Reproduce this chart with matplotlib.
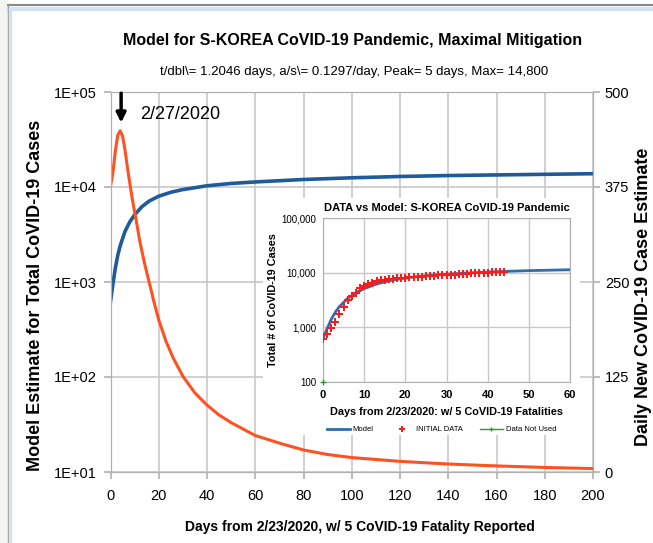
import matplotlib
matplotlib.use('Agg')
from matplotlib import pyplot as plt
from matplotlib.patches import Rectangle
from matplotlib.lines import Line2D

# main chart: model total cases (left, log) and daily new cases (right, linear)
model_days = [0, 1, 2, 3, 4, 6, 8, 10, 13, 16, 20, 25, 30, 40, 50, 60,
              80, 100, 120, 140, 160, 180, 200]
model_total = [620, 950, 1400, 1900, 2400, 3400, 4300, 5100, 6200, 7100, 8000,
               8800, 9400, 10300, 10900, 11300, 12000, 12500, 12900, 13200,
               13400, 13600, 13800]

daily_days = [0, 1, 2, 3, 4, 5, 6, 7, 8, 9, 10, 11, 12, 14, 16, 18, 20, 23, 26,
              30, 35, 40, 45, 50, 60, 70, 80, 90, 100, 120, 140, 160, 180, 200]
daily_new = [376, 394, 422, 443, 449, 442, 424, 401, 380, 360, 342, 325, 306,
             276, 250, 224, 200, 172, 150, 126, 104, 88, 75, 65, 48, 38, 29, 23,
             19, 14, 10.5, 8, 6, 4.5]

# inset: reported data
data_days = list(range(45))
data_cases = [602, 760, 980, 1250, 1790, 2340, 3150, 3740, 4210, 5190, 5620,
              6090, 6590, 7040, 7310, 7480, 7510, 7760, 7870, 7980, 8090, 8160,
              8240, 8320, 8410, 8570, 8650, 8800, 8900, 8960, 9040, 9140, 9240,
              9330, 9480, 9580, 9660, 9790, 9890, 9980, 10060, 10160, 10240,
              10280, 10330]
unused_days = [0]
unused_cases = [100]

SANS = ['Liberation Sans', 'DejaVu Sans']
BLUE = '#1f5a9a'
ORANGE = '#ff5222'
GRID = '#c8c8c8'

fig = plt.figure(figsize=(6.53, 5.43), dpi=100)

# screenshot frame
fig.add_artist(Rectangle((0, 0), 7 / 653, 1, transform=fig.transFigure,
                         color='#f4f4f0', zorder=-5))
fig.add_artist(Line2D([8 / 653, 1], [1 - 5 / 543, 1 - 5 / 543], transform=fig.transFigure,
                      color='#8a8a8a', lw=1.5))
fig.add_artist(Line2D([9 / 653, 1], [1 - 9 / 543, 1 - 9 / 543], transform=fig.transFigure,
                      color='#cfe3f2', lw=3))
fig.add_artist(Line2D([8 / 653, 8 / 653], [0, 1 - 5 / 543], transform=fig.transFigure,
                      color='#9a9a9a', lw=1))
fig.add_artist(Line2D([10 / 653, 10 / 653], [0, 1 - 9 / 543], transform=fig.transFigure,
                      color='#cfe3f2', lw=2.5))

ax = fig.add_axes([110.5 / 653, 1 - 472 / 543, 482.5 / 653, 380 / 543])
ax.plot(model_days, model_total, color=BLUE, lw=2.6)
ax.set_yscale('log')
ax.set_ylim(10, 1e5)
ax.set_xlim(0, 200)
ax.set_xticks(range(0, 201, 20))
ax.set_yticks([1e1, 1e2, 1e3, 1e4, 1e5])
ax.set_yticklabels(['1E+01', '1E+02', '1E+03', '1E+04', '1E+05'])
ax.minorticks_off()
ax.grid(True, color=GRID, lw=1.2)
ax.set_axisbelow(True)
for s in ax.spines.values():
    s.set_color('#b0b0b0')
ax.tick_params(colors='#b0b0b0', labelcolor='black', length=5, width=1.2)
ax.tick_params(axis='x', pad=7)
ax.tick_params(axis='y', pad=5)
for lab in ax.get_xticklabels() + ax.get_yticklabels():
    lab.set_family(SANS)
    lab.set_fontsize(10.5)

ax2 = ax.twinx()
ax2.plot(daily_days, daily_new, color=ORANGE, lw=2.2)
ax2.set_ylim(0, 500)
ax2.set_yticks([0, 125, 250, 375, 500])
ax2.tick_params(colors='#b0b0b0', labelcolor='black', length=5, width=1.2)
for lab in ax2.get_yticklabels():
    lab.set_family(SANS)
    lab.set_fontsize(10.5)
for s in ax2.spines.values():
    s.set_color('#b0b0b0')

ax2.annotate('', xy=(4.4, 456), xytext=(4.4, 502), annotation_clip=False,
             arrowprops=dict(arrowstyle='-|>', color='black', lw=2.5,
                             mutation_scale=14))
ax2.text(12.3, 471, '2/27/2020', family=SANS, fontsize=13, va='center', ha='left')

fig.text(353 / 653, 1 - 40 / 543, 'Model for S-KOREA CoVID-19 Pandemic, Maximal Mitigation',
         family=SANS, fontsize=11.5, fontweight='bold', ha='center', va='center')
fig.text(354 / 653, 1 - 72 / 543, 't/dbl\\= 1.2046 days, a/s\\= 0.1297/day, Peak= 5 days, Max= 14,800',
         family=SANS, fontsize=9.5, ha='center', va='center')
fig.text(360 / 653, 1 - 527 / 543, 'Days from 2/23/2020, w/ 5 CoVID-19 Fatality Reported',
         family=SANS, fontsize=10, fontweight='bold', ha='center', va='center')
fig.text(36 / 653, 1 - 295 / 543, 'Model Estimate for Total CoVID-19 Cases',
         family=SANS, fontsize=13, fontweight='bold', ha='center', va='center',
         rotation=90)
fig.text(643 / 653, 1 - 297 / 543, 'Daily New CoVID-19 Case Estimate',
         family=SANS, fontsize=13, fontweight='bold', ha='center', va='center',
         rotation=90)

# inset chart
fig.add_artist(Rectangle((263 / 653, 1 - 435 / 543), 317 / 653, 237 / 543,
                         transform=fig.transFigure, facecolor='white',
                         edgecolor='none', zorder=1))
ins = fig.add_axes([323 / 653, 1 - 382 / 543, 247 / 653, 164 / 543], zorder=2)
ins.plot(model_days, model_total, color='#2e6db0', lw=2, label='Model', zorder=3)
ins.plot(data_days, data_cases, linestyle='none', marker='P', markersize=5.2,
         color='#ff1a1a', markeredgewidth=0, label='INITIAL DATA', zorder=4)
ins.plot(unused_days, unused_cases, color='#2a9a2a', marker='+', markersize=5,
         lw=1, label='Data Not Used', clip_on=False, zorder=5)
ins.set_yscale('log')
ins.set_ylim(100, 1e5)
ins.set_xlim(0, 60)
ins.set_xticks(range(0, 61, 10))
ins.set_yticks([100, 1000, 10000, 100000])
ins.set_yticklabels(['100', '1,000', '10,000', '100,000'])
ins.minorticks_off()
ins.grid(True, color=GRID, lw=1)
ins.set_axisbelow(True)
for s in ins.spines.values():
    s.set_color('#b0b0b0')
ins.tick_params(axis='x', length=0, pad=6)
ins.tick_params(axis='y', length=0, pad=5)
for lab in ins.get_yticklabels():
    lab.set_family(SANS)
    lab.set_fontsize(7)
for lab in ins.get_xticklabels():
    lab.set_family(SANS)
    lab.set_fontsize(8)
    lab.set_fontweight('bold')
ins.set_title('DATA vs Model: S-KOREA CoVID-19 Pandemic', family=SANS,
              fontsize=8, fontweight='bold', pad=5)
ins.set_ylabel('Total # of CoVID-19 Cases', family=SANS, fontsize=7.8,
               fontweight='bold', labelpad=2)
ins.set_xlabel('Days from 2/23/2020: w/ 5 CoVID-19 Fatalities', family=SANS,
               fontsize=7.8, fontweight='bold', labelpad=5)
ins.legend(loc='center', bbox_to_anchor=(0.48, -0.29), ncol=3, frameon=False,
           prop={'family': SANS, 'size': 5.5}, handlelength=3, columnspacing=2.2,
           handletextpad=0.4, borderaxespad=0, markerscale=0.7)

fig.savefig('out.png', dpi=100)
